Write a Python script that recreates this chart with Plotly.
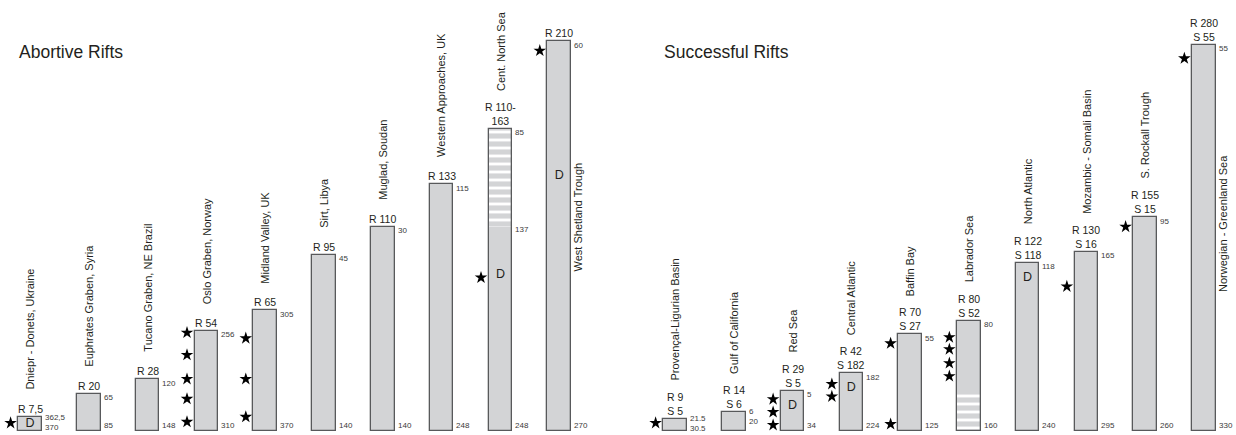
import plotly.graph_objects as go

# ---------------- data ----------------
ab_names = ["Dniepr - Donets, Ukraine", "Euphrates Graben, Syria", "Tucano Graben, NE Brazil",
            "Oslo Graben, Norway", "Midland Valley, UK", "Sirt, Libya", "Muglad, Soudan",
            "Western Approaches, UK", "Cent. North Sea", "West Shetland Trough"]
ab_r = [7.5, 20, 28, 54, 65, 95, 110, 133, 163, 210]
ab_r_text = ["R 7,5", "R 20", "R 28", "R 54", "R 65", "R 95", "R 110", "R 133", "R 110-<br>163", "R 210"]
ab_striped_from = [None, None, None, None, None, None, None, None, 110, None]
ab_top = ["362,5", "65", "120", "256", "305", "45", "30", "115", "85", "60"]
ab_bottom = ["370", "85", "148", "310", "370", "140", "140", "248", "248", "270"]
ab_mid = {8: "137"}
ab_stars = [(0, 4.3), (3, 53), (3, 41), (3, 28), (3, 17.3), (3, 4.9),
            (4, 50), (4, 28), (4, 7.6), (8, 82.7), (9, 205)]
ab_d = [(0, 3.75), (8, 84), (9, 137.6)]

su_names = ["Provençal-Ligurian Basin", "Gulf of California", "Red Sea", "Central Atlantic",
            "Baffin Bay", "Labrador Sea", "North Atlantic", "Mozambic - Somali Basin",
            "S. Rockall Trough", "Norwegian - Greenland Sea"]
su_r = [9, 14, 29, 42, 70, 80, 122, 130, 155, 280]
su_s = [5, 6, 5, 182, 27, 52, 118, 16, 15, 55]
su_striped_below = [None, None, None, None, None, 28, None, None, None, None]
su_top = ["21.5", "6", "5", "182", "55", "80", "118", "165", "95", "55"]
su_bottom = ["30.5", "20", "34", "224", "125", "160", "240", "295", "260", "330"]
su_stars = [(0, 5.8), (2, 23), (2, 13.7), (2, 4.3), (3, 34), (3, 25), (4, 63.5), (4, 5),
            (5, 67.9), (5, 59.2), (5, 49.1), (5, 39.7), (7, 104.7), (8, 148), (9, 270)]
su_d = [(2, 18.3), (3, 30.9), (6, 111)]

# ---------------- styling ----------------
FILL = "#d3d4d6"
EDGE = "#58595b"
INK = "#231f20"
NUM = "#3a3a3a"
FONT = "Liberation Sans, Arial, sans-serif"
BAR_W = 0.4
STAR_DX = -0.33
PLOT_H = 431          # plot area height in pixels
AB_PX = 1.855         # pixels per unit, abortive panel
SU_PX = 1.38          # pixels per unit, successful panel

fig = go.Figure()


def add_panel(xa, ya, heights, solid_base, solid_top, stripe_segs, stars, dletters):
    idx = list(range(len(heights)))
    # solid grey part of each column
    fig.add_trace(go.Bar(
        x=idx, y=[t - b for b, t in zip(solid_base, solid_top)], base=solid_base,
        width=BAR_W, marker=dict(color=FILL, line=dict(width=0)),
        xaxis=xa, yaxis=ya, showlegend=False, hoverinfo="skip"))
    # striped (white banded) part
    if stripe_segs:
        fig.add_trace(go.Bar(
            x=[s[0] for s in stripe_segs], y=[s[2] - s[1] for s in stripe_segs],
            base=[s[1] for s in stripe_segs], width=BAR_W,
            marker=dict(color=FILL, line=dict(width=0),
                        pattern=dict(shape="-", fgcolor="white", bgcolor=FILL,
                                     size=8, solidity=0.36, fillmode="replace")),
            xaxis=xa, yaxis=ya, showlegend=False, hoverinfo="skip"))
    # outline of the whole column
    fig.add_trace(go.Bar(
        x=idx, y=heights, width=BAR_W,
        marker=dict(color="rgba(0,0,0,0)", line=dict(color=EDGE, width=1.3)),
        xaxis=xa, yaxis=ya, showlegend=False, hoverinfo="skip"))
    # stars beside the columns
    fig.add_trace(go.Scatter(
        x=[i + STAR_DX for i, _ in stars], y=[v for _, v in stars], mode="markers",
        marker=dict(symbol="star", size=9.5, color="black", line=dict(width=0)),
        xaxis=xa, yaxis=ya, showlegend=False, hoverinfo="skip"))
    # "D" marks inside columns
    fig.add_trace(go.Scatter(
        x=[i for i, _ in dletters], y=[v for _, v in dletters], mode="text",
        text=["D"] * len(dletters), textfont=dict(family=FONT, size=12.5, color=INK),
        xaxis=xa, yaxis=ya, showlegend=False, hoverinfo="skip"))


# abortive rifts
ab_base = [0] * len(ab_r)
ab_solid_top = [s if s is not None else r for r, s in zip(ab_r, ab_striped_from)]
ab_stripes = [(i, s, r) for i, (r, s) in enumerate(zip(ab_r, ab_striped_from)) if s is not None]
add_panel("x", "y", ab_r, ab_base, ab_solid_top, ab_stripes, ab_stars, ab_d)

# successful rifts
su_base = [s if s is not None else 0 for s in su_striped_below]
su_stripes = [(i, 0, s) for i, s in enumerate(su_striped_below) if s is not None]
add_panel("x2", "y2", su_r, su_base, su_r, su_stripes, su_stars, su_d)

ann = []


def labels(xr, yr, names, heights, rtext, tops, bottoms, side_name, two_line, px):
    for i, h in enumerate(heights):
        ann.append(dict(x=i, y=h, xref=xr, yref=yr, text=rtext[i], showarrow=False,
                        xanchor="center", yanchor="bottom", yshift=1, borderpad=0,
                        font=dict(family=FONT, size=10.5, color=INK)))
        if i in side_name:
            ann.append(dict(x=i + BAR_W / 2, y=side_name[i], xref=xr, yref=yr, text=names[i],
                            showarrow=False, textangle=-90, xanchor="left", yanchor="bottom",
                            xshift=0, borderpad=0, font=dict(family=FONT, size=11, color=INK)))
        else:
            ann.append(dict(x=i, y=h, xref=xr, yref=yr, text=names[i], showarrow=False,
                            textangle=-90, xanchor="center", yanchor="bottom",
                            yshift=37 if (two_line or "<br>" in rtext[i]) else 26, borderpad=0,
                            font=dict(family=FONT, size=11, color=INK)))
        # top / bottom values beside the column; squeezed together on short columns
        bar_px = h * px
        if bar_px < 20:
            top_shift, bot_shift = 0, bar_px - 10
        else:
            top_shift, bot_shift = -4, 6
        ann.append(dict(x=i + BAR_W / 2, y=h, xref=xr, yref=yr, text=tops[i], showarrow=False,
                        xanchor="left", yanchor="middle", xshift=2, yshift=top_shift, borderpad=0,
                        font=dict(family=FONT, size=8, color=NUM)))
        ann.append(dict(x=i + BAR_W / 2, y=0, xref=xr, yref=yr, text=bottoms[i], showarrow=False,
                        xanchor="left", yanchor="middle", xshift=2, yshift=bot_shift, borderpad=0,
                        font=dict(family=FONT, size=8, color=NUM)))


labels("x", "y", ab_names, ab_r, ab_r_text, ab_top, ab_bottom, {9: 85.7}, False, AB_PX)
for i, t in ab_mid.items():
    ann.append(dict(x=i + BAR_W / 2, y=ab_striped_from[i], xref="x", yref="y", text=t,
                    showarrow=False, xanchor="left", yanchor="middle", xshift=2, yshift=-3,
                    borderpad=0, font=dict(family=FONT, size=8, color=NUM)))

su_rtext = [f"R {r}<br>S {s}" for r, s in zip(su_r, su_s)]
labels("x2", "y2", su_names, su_r, su_rtext, su_top, su_bottom, {9: 100}, True, SU_PX)

# panel titles
ann.append(dict(x=18 / 1236, y=(PLOT_H - 52) / PLOT_H, xref="paper", yref="paper", text="Abortive Rifts",
                showarrow=False, xanchor="left", yanchor="middle", borderpad=0,
                font=dict(family=FONT, size=17.5, color=INK)))
ann.append(dict(x=663 / 1236, y=(PLOT_H - 52) / PLOT_H, xref="paper", yref="paper", text="Successful Rifts",
                showarrow=False, xanchor="left", yanchor="middle", borderpad=0,
                font=dict(family=FONT, size=17.5, color=INK)))

hidden = dict(visible=False, showgrid=False, zeroline=False, fixedrange=True)
fig.update_layout(
    width=1236, height=435,
    margin=dict(l=0, r=0, t=0, b=435 - PLOT_H),
    paper_bgcolor="white", plot_bgcolor="white",
    barmode="overlay", bargap=0,
    xaxis=dict(domain=[0, 0.5], range=[-30 / 58.8, 588 / 58.8], **hidden),
    yaxis=dict(domain=[0, 1], range=[0, PLOT_H / AB_PX], anchor="x", **hidden),
    xaxis2=dict(domain=[0.5, 1], range=[(618 - 675) / 58.75, (1236 - 675) / 58.75], **hidden),
    yaxis2=dict(domain=[0, 1], range=[0, PLOT_H / SU_PX], anchor="x2", **hidden),
    annotations=ann,
)

fig.write_html("out.html")
